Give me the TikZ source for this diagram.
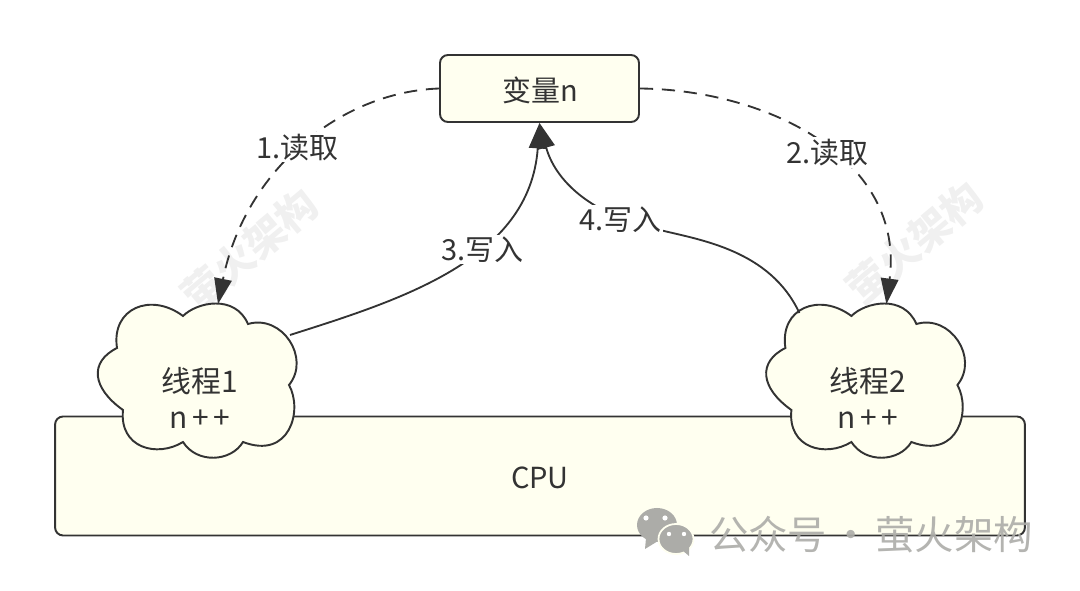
\documentclass[tikz,border=0pt]{standalone}
\usepackage{fontspec}
\setmainfont{Noto Sans CJK SC}
\usepackage{xcolor}
\usetikzlibrary{arrows.meta}
\definecolor{boxfill}{RGB}{255,255,240}
\definecolor{ink}{RGB}{51,51,51}
\definecolor{faint}{RGB}{240,240,240}
\definecolor{markgray}{RGB}{172,172,168}

\begin{document}
\begin{tikzpicture}[
  x=0.02cm, y=-0.02cm,
  box/.style={rectangle, rounded corners=4.5pt, draw=ink, line width=1.1pt, fill=boxfill,
    align=center, text=ink, font=\fontsize{16.5}{20}\selectfont, inner sep=0pt},
  boxtext/.style={text=ink, font=\fontsize{16.5}{20}\selectfont},
  threadtext/.style={align=center, text=ink, font=\fontsize{17}{20.5}\selectfont},
  arrow/.style={-{Triangle[length=14.5pt,width=10pt]}, line width=1.05pt, draw=ink},
  readarrow/.style={arrow, dash pattern=on 7.5pt off 5pt},
  edgelabel/.style={fill=white, text=ink, inner sep=1pt, font=\fontsize{16.5}{20}\selectfont},
  stamp/.style={text=faint, rotate=40, font=\bfseries\fontsize{23}{23}\selectfont},
  footer/.style={text=markgray, font=\fontsize{22.4}{24}\selectfont},
  threadcloud/.pic={
    \draw[line width=1.1pt, draw=ink, fill=boxfill] (-14,-64)
      .. controls (0,-78) and (38,-86) .. (51,-56)
      .. controls (85,-66) and (114,-22) .. (92,5)
      .. controls (106,30) and (93,80) .. (46,62)
      .. controls (34,82) and (0,84) .. (-14,62)
      .. controls (-40,78) and (-78,68) .. (-74,30)
      .. controls (-105,8) and (-108,-18) .. (-80,-32)
      .. controls (-86,-72) and (-46,-88) .. (-14,-64) -- cycle;
    \coordinate (-top) at (21,-76);
    \coordinate (-east) at (93,-45);
    \coordinate (-west) at (-66,-67);
  }
]
\useasboundingbox (0,0) rectangle (1080,591);

\node[stamp] (stampA) at (250,250) {萤火架构};
\node[stamp] (stampB) at (915,243) {萤火架构};

\node[box, minimum width=19.4cm, minimum height=2.38cm] (cpu) at (540,476) {};
\node[boxtext] (cpuText) at (540,478) {CPU};
\node[box, minimum width=3.98cm, minimum height=1.34cm] (varN) at (539.5,88.5) {};
\node[boxtext] (varText) at (540,90) {变量n};

\pic (cloudA) at (197,380) {threadcloud};
\pic (cloudB) at (865.4,380) {threadcloud};
\node[threadtext] (threadA) at (200,398) {线程1\\n{\kern2.5pt}+{\kern2.5pt}+};
\node[threadtext] (threadB) at (868,398) {线程2\\n{\kern2.5pt}+{\kern2.5pt}+};

\draw[readarrow] (varN.west) .. controls (340,92) and (245,170) .. (cloudA-top)
  node[edgelabel, pos=0.5, xshift=-2.5pt, yshift=0pt] (readA) {1.读取};
\draw[readarrow] (varN.east) .. controls (770,90) and (905,160) .. (cloudB-top)
  node[edgelabel, pos=0.52, yshift=-3pt, xshift=1.5pt] (readB) {2.读取};
\draw[arrow] (cloudA-east) .. controls (400,300) and (530,260) .. (varN.south)
  node[edgelabel, pos=0.6, xshift=2pt, yshift=-1.5pt] (writeA) {3.写入};
\draw[arrow] (cloudB-west) .. controls (770,250) and (700,240) .. (660,230)
  .. controls (590,215) and (555,180) .. (varN.south)
  node[edgelabel, pos=0.26, xshift=4.5pt, yshift=-3pt] (writeB) {4.写入};

% bottom mark
\fill[markgray] (657,525) ellipse (20 and 17);
\fill[markgray] (646,538) -- (645,549) -- (658,541) -- cycle;
\fill[white] (646,518) circle (2.6);
\fill[white] (665,518) circle (2.6);
\fill[markgray, draw=boxfill, line width=1pt] (676,539) ellipse (17.5 and 15);
\fill[markgray] (682,550) -- (689,556) -- (689,545) -- cycle;
\fill[white] (669,534) circle (2.2);
\fill[white] (684,534) circle (2.2);
\node[footer, opacity=0.9, anchor=west] (brand) at (703,535) {公众号\kern2.5pt·\kern2.5pt萤火架构};

\end{tikzpicture}
\end{document}
